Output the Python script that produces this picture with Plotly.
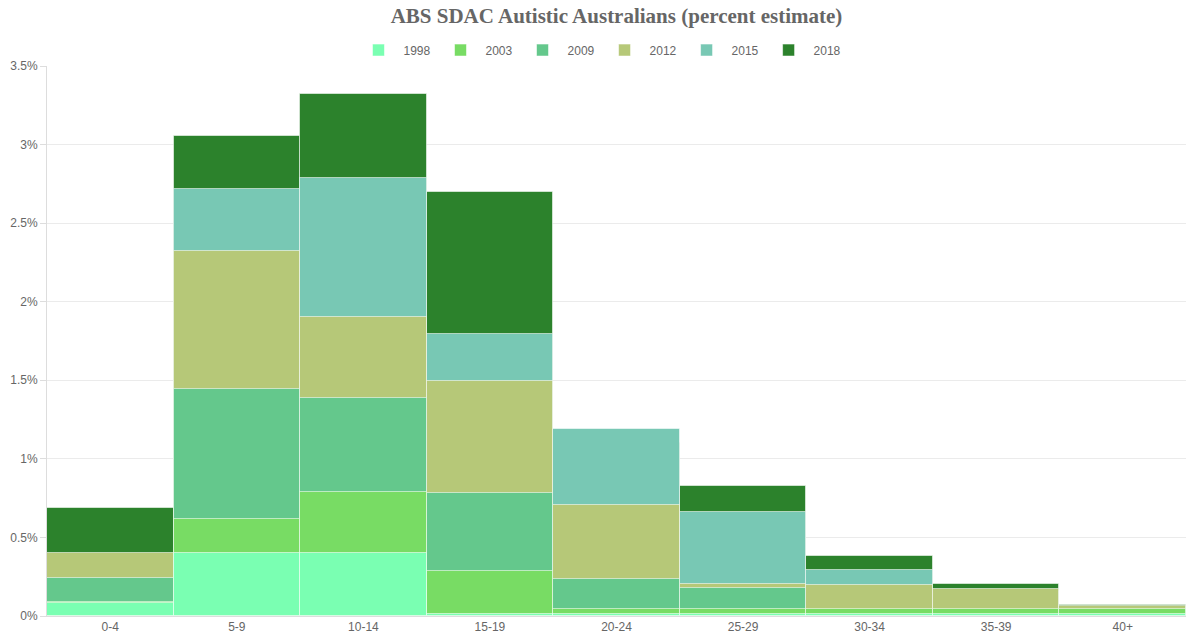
import plotly.graph_objects as go

categories = ["0-4", "5-9", "10-14", "15-19", "20-24", "25-29", "30-34", "35-39", "40+"]
years = ["1998", "2003", "2009", "2012", "2015", "2018"]

v1998 = [0.08, 0.40, 0.40, 0.01, 0.01, 0.01, 0.013, 0.013, 0.013]
v2003 = [0.09, 0.615, 0.79, 0.285, 0.043, 0.043, 0.045, 0.045, 0.043]
v2009 = [0.245, 1.445, 1.39, 0.78, 0.234, 0.178, 0.04, 0.04, 0.04]
v2012 = [0.40, 2.32, 1.90, 1.495, 0.705, 0.206, 0.20, 0.175, 0.064]
v2015 = [0.38, 2.72, 2.79, 1.795, 1.19, 0.664, 0.29, 0.15, 0.05]
v2018 = [0.685, 3.055, 3.32, 2.70, 1.10, 0.83, 0.38, 0.204, 0.072]

values = {"1998": v1998, "2003": v2003, "2009": v2009,
          "2012": v2012, "2015": v2015, "2018": v2018}
colors = {"1998": "#7affb2", "2003": "#78dc64", "2009": "#64c88c",
          "2012": "#b6c878", "2015": "#78c8b4", "2018": "#2c822c"}

fig = go.Figure()
# draw later years first so earlier years sit on top (overlay)
for y in reversed(years):
    fig.add_trace(go.Bar(
        x=categories, y=values[y], name=y,
        marker=dict(color=colors[y], line=dict(color="rgba(255,255,255,0.55)", width=1)),
    ))

fig.update_layout(
    barmode="overlay",
    bargap=0,
    width=1186, height=638,
    margin=dict(l=47, r=0, t=66, b=22, autoexpand=False),
    paper_bgcolor="white", plot_bgcolor="white",
    title=dict(text="<b>ABS SDAC Autistic Australians (percent estimate)</b>",
               x=0.5, xref="paper", y=0.976, yanchor="middle",
               font=dict(family="Liberation Serif", size=21, color="#666666")),
    legend=dict(orientation="h", traceorder="reversed", x=0.4855, xanchor="center",
                y=1.029, yanchor="middle", font=dict(family="Liberation Sans", size=12, color="#666666"),
                itemwidth=40),
    font=dict(family="Liberation Sans", size=12, color="#666666"),
    showlegend=True,
)
fig.update_yaxes(range=[0, 3.5], dtick=0.5, ticksuffix="%", gridcolor="#ebebeb",
                 showline=True, linecolor="#dddddd", ticks="outside", ticklen=6,
                 tickcolor="#dddddd", zeroline=False, automargin=False,
                 tickfont=dict(family="Liberation Sans", size=12, color="#666666"))
fig.update_xaxes(showgrid=False, showline=True, linecolor="#dddddd", ticks="",
                 automargin=False,
                 tickfont=dict(family="Liberation Sans", size=12, color="#666666"))

fig.write_html("out.html", config={"displayModeBar": False},
               post_script="document.body.style.margin='0';document.body.style.overflow='hidden';")
